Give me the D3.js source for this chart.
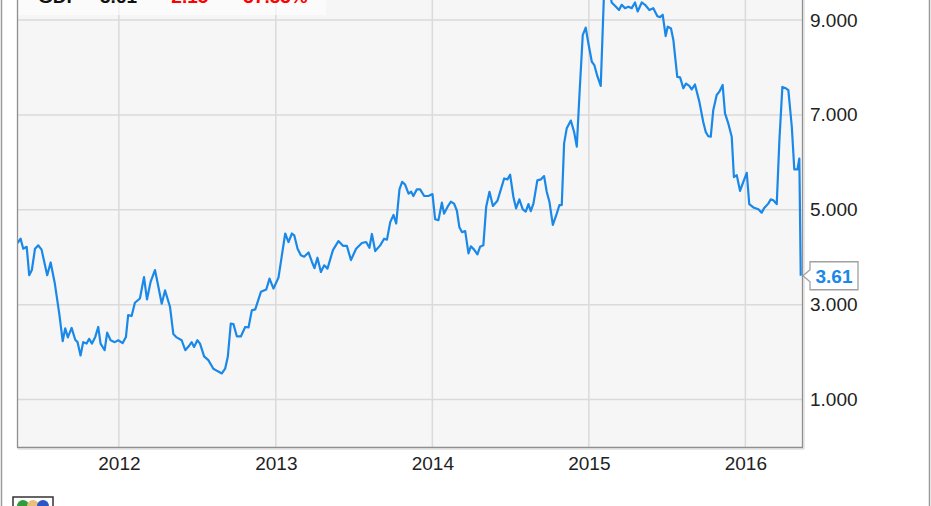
<!DOCTYPE html>
<html>
<head>
<meta charset="utf-8">
<script src="https://cdn.jsdelivr.net/npm/d3@7/dist/d3.min.js"></script>
<style>
  html, body { margin: 0; padding: 0; background: #ffffff; }
  svg { display: block; }
</style>
</head>
<body>
<svg id="chart" width="931" height="506"></svg>
<script>
// ---- data (time in decimal years, value) ----
const times = [
  2011.349, 2011.372, 2011.389, 2011.411, 2011.427, 2011.444, 2011.464, 2011.485, 2011.506, 2011.542,
  2011.564, 2011.591, 2011.619, 2011.641, 2011.657, 2011.674, 2011.698, 2011.721, 2011.736, 2011.755,
  2011.772, 2011.794, 2011.810, 2011.828, 2011.849, 2011.868, 2011.883, 2011.909, 2011.925, 2011.947,
  2011.974, 2011.996, 2012.024, 2012.045, 2012.059, 2012.081, 2012.102, 2012.134, 2012.160, 2012.179,
  2012.202, 2012.230, 2012.251, 2012.273, 2012.294, 2012.326, 2012.347, 2012.368, 2012.400, 2012.423,
  2012.449, 2012.464, 2012.479, 2012.500, 2012.517, 2012.543, 2012.570, 2012.602, 2012.628, 2012.656,
  2012.677, 2012.694, 2012.713, 2012.730, 2012.752, 2012.777, 2012.805, 2012.826, 2012.847, 2012.869,
  2012.905, 2012.939, 2012.960, 2012.985, 2013.017, 2013.060, 2013.081, 2013.103, 2013.118, 2013.139,
  2013.160, 2013.181, 2013.209, 2013.231, 2013.247, 2013.266, 2013.288, 2013.309, 2013.330, 2013.365,
  2013.400, 2013.429, 2013.454, 2013.480, 2013.513, 2013.550, 2013.577, 2013.598, 2013.614, 2013.635,
  2013.667, 2013.692, 2013.710, 2013.731, 2013.752, 2013.769, 2013.790, 2013.807, 2013.826, 2013.848,
  2013.865, 2013.879, 2013.901, 2013.922, 2013.948, 2013.975, 2014.001, 2014.018, 2014.039, 2014.061,
  2014.075, 2014.097, 2014.118, 2014.139, 2014.157, 2014.173, 2014.189, 2014.210, 2014.231, 2014.246,
  2014.267, 2014.288, 2014.305, 2014.326, 2014.344, 2014.365, 2014.387, 2014.416, 2014.438, 2014.459,
  2014.480, 2014.497, 2014.518, 2014.535, 2014.556, 2014.578, 2014.597, 2014.614, 2014.629, 2014.646,
  2014.671, 2014.693, 2014.714, 2014.731, 2014.748, 2014.770, 2014.795, 2014.812, 2014.827, 2014.842,
  2014.859, 2014.885, 2014.906, 2014.923, 2014.940, 2014.961, 2014.980, 2014.997, 2015.019, 2015.035,
  2015.054, 2015.076, 2015.100, 2015.126, 2015.146, 2015.167, 2015.193, 2015.210, 2015.231, 2015.252,
  2015.274, 2015.295, 2015.312, 2015.338, 2015.359, 2015.387, 2015.412, 2015.438, 2015.455, 2015.472,
  2015.491, 2015.504, 2015.525, 2015.540, 2015.565, 2015.583, 2015.604, 2015.621, 2015.642, 2015.657,
  2015.678, 2015.706, 2015.731, 2015.747, 2015.763, 2015.779, 2015.795, 2015.817, 2015.834, 2015.855,
  2015.870, 2015.891, 2015.913, 2015.927, 2015.945, 2015.966, 2015.987, 2016.009, 2016.025, 2016.051,
  2016.083, 2016.104, 2016.119, 2016.146, 2016.162, 2016.178, 2016.200, 2016.217, 2016.236, 2016.258,
  2016.274, 2016.296, 2016.312, 2016.332, 2016.344, 2016.353
];
const values = [
  4.29, 4.39, 4.18, 4.22, 3.62, 3.73, 4.18, 4.25, 4.16, 3.62,
  3.89, 3.44, 2.81, 2.23, 2.50, 2.31, 2.51, 2.26, 2.21, 1.93,
  2.21, 2.18, 2.28, 2.18, 2.32, 2.53, 2.18, 2.04, 2.41, 2.25,
  2.21, 2.25, 2.19, 2.32, 2.78, 2.76, 3.04, 3.13, 3.58, 3.11,
  3.48, 3.73, 3.39, 3.02, 3.30, 2.95, 2.38, 2.31, 2.25, 2.04,
  2.14, 2.21, 2.11, 2.25, 2.18, 1.91, 1.83, 1.65, 1.60, 1.55,
  1.65, 1.90, 2.60, 2.59, 2.33, 2.33, 2.53, 2.52, 2.88, 2.90,
  3.27, 3.32, 3.55, 3.34, 3.57, 4.50, 4.32, 4.50, 4.46, 4.18,
  4.04, 4.01, 4.10, 3.90, 3.77, 3.99, 3.69, 3.83, 3.76, 4.15,
  4.34, 4.24, 4.24, 3.94, 4.18, 4.30, 4.32, 4.20, 4.49, 4.13,
  4.25, 4.39, 4.37, 4.74, 4.89, 4.71, 5.43, 5.59, 5.53, 5.34,
  5.38, 5.29, 5.43, 5.43, 5.29, 5.29, 5.33, 4.80, 4.78, 5.15,
  4.92, 5.06, 5.17, 5.13, 4.98, 4.63, 4.53, 4.55, 4.08, 4.23,
  4.16, 4.06, 4.22, 4.25, 5.06, 5.38, 5.08, 5.19, 5.43, 5.66,
  5.64, 5.74, 5.27, 5.03, 5.22, 5.01, 4.96, 5.12, 4.97, 5.13,
  5.62, 5.64, 5.71, 5.38, 5.17, 4.68, 4.92, 5.10, 5.10, 6.40,
  6.72, 6.88, 6.64, 6.33, 7.42, 8.68, 8.84, 8.51, 8.12, 8.05,
  7.82, 7.61, 9.85, 9.70, 9.37, 9.30, 9.21, 9.32, 9.25, 9.28,
  9.25, 9.37, 9.18, 9.37, 9.32, 9.21, 9.25, 9.08, 9.06, 9.11,
  8.66, 8.86, 8.82, 8.58, 7.80, 7.79, 7.56, 7.66, 7.61, 7.54,
  7.64, 7.28, 6.85, 6.64, 6.55, 6.54, 7.10, 7.42, 7.49, 7.63,
  7.03, 6.82, 6.54, 5.69, 5.73, 5.40, 5.59, 5.78, 5.12, 5.05,
  5.01, 4.94, 5.03, 5.13, 5.22, 5.20, 5.12, 6.47, 7.59, 7.56,
  7.52, 6.75, 5.85, 5.85, 6.08, 3.61
];
const yTicks = [1, 3, 5, 7, 9];
const timeStart = 2011.349;
const timeEnd = 2016.361;
const legendItems = ["GDP", "3.61", "-2.15", "-37.33%"];
const lastLabel = "3.61";

// ---- helpers ----
function toDate(t) {
  const yr = Math.floor(t);
  const a = new Date(yr, 0, 1), b = new Date(yr + 1, 0, 1);
  return new Date(+a + (t - yr) * (b - a));
}
const data = times.map((t, i) => ({ date: toDate(t), value: values[i] }));

const svg = d3.select("#chart");
const W = 931, H = 506;
const plot = { left: 17, right: 802, top: -60, bottom: 447 };

const x = d3.scaleTime()
  .domain([toDate(timeStart), toDate(timeEnd)])
  .range([plot.left, plot.right]);
const y = d3.scaleLinear()
  .domain([0, 9])
  .range([447, 20]);

// outer frame
svg.append("line").attr("x1", 1.5).attr("x2", 1.5).attr("y1", 0).attr("y2", H)
  .attr("stroke", "#9a9a9a").attr("stroke-width", 1.5);
svg.append("line").attr("x1", 929.5).attr("x2", 929.5).attr("y1", 0).attr("y2", H)
  .attr("stroke", "#9a9a9a").attr("stroke-width", 1.5);

// plot background
svg.append("rect")
  .attr("x", plot.left).attr("y", plot.top)
  .attr("width", plot.right - plot.left).attr("height", plot.bottom - plot.top)
  .attr("fill", "#f6f6f6");

// gridlines
const yearTicks = x.ticks(d3.timeYear.every(1));
svg.append("g").selectAll("line.hg").data(yTicks).join("line")
  .attr("x1", plot.left).attr("x2", plot.right)
  .attr("y1", d => y(d)).attr("y2", d => y(d))
  .attr("stroke", "#dadada").attr("stroke-width", 1.5);
svg.append("g").selectAll("line.vg").data(yearTicks).join("line")
  .attr("x1", d => x(d)).attr("x2", d => x(d))
  .attr("y1", plot.top).attr("y2", plot.bottom)
  .attr("stroke", "#dadada").attr("stroke-width", 1.5);

// legend box (mostly cropped at top)
svg.append("rect")
  .attr("x", plot.left + 1).attr("y", -40)
  .attr("width", 308).attr("height", 55)
  .attr("fill", "#ffffff").attr("opacity", 0.6);
const legPos = [38, 100, 165, 237];
const legCol = ["#111", "#111", "#ff0000", "#ff0000"];
svg.append("g").selectAll("text").data(legendItems).join("text")
  .attr("x", (d, i) => legPos[i]).attr("y", 3)
  .attr("fill", (d, i) => legCol[i])
  .attr("font-family", "Liberation Sans, Arial, sans-serif")
  .attr("font-size", 19).attr("font-weight", "bold")
  .text(d => d);

// clip & line
svg.append("clipPath").attr("id", "clip").append("rect")
  .attr("x", plot.left).attr("y", plot.top)
  .attr("width", plot.right - plot.left).attr("height", plot.bottom - plot.top);
const line = d3.line().x(d => x(d.date)).y(d => y(d.value));
svg.append("path").datum(data)
  .attr("clip-path", "url(#clip)")
  .attr("fill", "none").attr("stroke", "#1a88e8").attr("stroke-width", 2.2)
  .attr("stroke-linejoin", "round")
  .attr("d", line);

// plot border
svg.append("path")
  .attr("d", `M${plot.left + 0.5},${plot.top} V${plot.bottom + 0.5} H${plot.right + 0.5} V${plot.top}`)
  .attr("fill", "none").attr("stroke", "#8f8f8f").attr("stroke-width", 1.3);
svg.append("path")
  .attr("d", `M${plot.left + 1},${plot.bottom + 2} H${plot.right + 2} V${plot.top}`)
  .attr("fill", "none").attr("stroke", "#d0d0d0").attr("stroke-width", 1);

// right axis
const yAxis = d3.axisRight(y).tickValues(yTicks).tickFormat(d3.format(".3f")).tickSize(0).tickPadding(8);
const gy = svg.append("g").attr("transform", `translate(${plot.right},0)`).call(yAxis);
gy.select(".domain").remove();
gy.selectAll("text")
  .attr("font-family", "Liberation Sans, Arial, sans-serif")
  .attr("font-size", 19).attr("fill", "#222");

// bottom axis
const xAxis = d3.axisBottom(x).ticks(d3.timeYear.every(1)).tickFormat(d3.timeFormat("%Y")).tickSize(0).tickPadding(10);
const gx = svg.append("g").attr("transform", `translate(0,${plot.bottom})`).call(xAxis);
gx.select(".domain").remove();
gx.selectAll("text")
  .attr("font-family", "Liberation Sans Narrow, Liberation Sans, Arial, sans-serif")
  .attr("font-size", 19).attr("fill", "#222");

// last value badge
const last = data[data.length - 1];
const ly = y(last.value);
const bx = plot.right + 8, bw = 48, bh = 28;
svg.append("path")
  .attr("d", `M${plot.right + 1},${ly} L${bx},${ly - 6} V${ly - bh / 2} H${bx + bw} V${ly + bh / 2} H${bx} V${ly + 6} Z`)
  .attr("fill", "#ffffff").attr("stroke", "#a0a0a0").attr("stroke-width", 1.3);
svg.append("text")
  .attr("x", bx + bw / 2).attr("y", ly + 7)
  .attr("text-anchor", "middle")
  .attr("font-family", "Liberation Sans, Arial, sans-serif")
  .attr("font-size", 19).attr("font-weight", "bold").attr("fill", "#1a88e8")
  .text(lastLabel);

// small logo at bottom-left (cropped)
const logo = svg.append("g").attr("transform", "translate(13,497)");
logo.append("rect").attr("width", 40).attr("height", 14).attr("fill", "#ffffff").attr("stroke", "#333").attr("stroke-width", 1.5);
logo.append("circle").attr("cx", 10).attr("cy", 9).attr("r", 6).attr("fill", "#2e9d3a");
logo.append("circle").attr("cx", 20).attr("cy", 9).attr("r", 6).attr("fill", "#e8c07a");
logo.append("circle").attr("cx", 30).attr("cy", 9).attr("r", 6).attr("fill", "#2a55c8");
</script>
</body>
</html>
